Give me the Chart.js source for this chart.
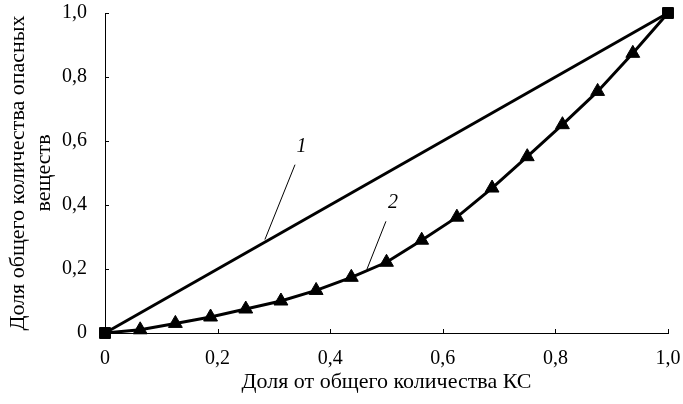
<!DOCTYPE html>
<html>
<head>
<meta charset="utf-8">
<script src="https://cdn.jsdelivr.net/npm/chart.js@4.4.1/dist/chart.umd.min.js"></script>
<style>
html,body{margin:0;padding:0;background:#fff;}
#wrap{width:683px;height:404px;position:relative;}
</style>
</head>
<body>
<div id="wrap"><canvas id="c" width="683" height="404"></canvas></div>
<script>
// ---- data ----
const line1X = [0, 1];
const line1Y = [0, 1];
const line2X = [0, 0.0625, 0.125, 0.1875, 0.25, 0.3125, 0.375, 0.4375, 0.5, 0.5625, 0.625, 0.6875, 0.75, 0.8125, 0.875, 0.9375, 1];
const line2Y = [0, 0.01, 0.03, 0.05, 0.075, 0.10, 0.133, 0.174, 0.221, 0.29, 0.362, 0.453, 0.551, 0.651, 0.755, 0.874, 1.0];
const tickValues = [0, 0.2, 0.4, 0.6, 0.8, 1.0];
const xTitle = 'Доля от общего количества КС';
const yTitle = ['Доля общего количества опасных', 'веществ'];
const curveLabels = ['1', '2'];
const labelPos = [[0.349, 0.583], [0.5115, 0.407]];
const leaderLines = [[[0.3375, 0.526], [0.284, 0.292]], [[0.499, 0.349], [0.465, 0.198]]];

const FONT = "'Liberation Serif', 'Times New Roman', serif";
const fmt = v => (Math.abs(v) < 1e-9 ? '0' : v.toFixed(1).replace('.', ','));

const pts1 = line1X.map((x, i) => ({x, y: line1Y[i]}));
const pts2 = line2X.map((x, i) => ({x, y: line2Y[i]}));
const style2 = line2X.map((x, i) => (i === 0 || i === line2X.length - 1) ? 'rect' : 'triangle');
const radius2 = style2.map(s => s === 'rect' ? 7.5 : 8);

const decor = {
  id: 'decor',
  afterDraw(chart) {
    const ctx = chart.ctx;
    const xs = chart.scales.x, ys = chart.scales.y;
    ctx.save();
    ctx.strokeStyle = '#000';
    ctx.lineWidth = 1;
    // inner tick marks
    tickValues.forEach(v => {
      const px = Math.round(xs.getPixelForValue(v)) + 0.5;
      ctx.beginPath(); ctx.moveTo(px, ys.bottom); ctx.lineTo(px, ys.bottom - 4); ctx.stroke();
      const py = Math.round(ys.getPixelForValue(v)) + 0.5;
      ctx.beginPath(); ctx.moveTo(xs.left, py); ctx.lineTo(xs.left + 4, py); ctx.stroke();
    });
    // leader lines
    leaderLines.forEach(seg => {
      ctx.beginPath();
      ctx.moveTo(xs.getPixelForValue(seg[0][0]), ys.getPixelForValue(seg[0][1]));
      ctx.lineTo(xs.getPixelForValue(seg[1][0]), ys.getPixelForValue(seg[1][1]));
      ctx.stroke();
    });
    // curve labels
    ctx.fillStyle = '#000';
    ctx.font = 'italic 20px ' + FONT;
    ctx.textAlign = 'center';
    ctx.textBaseline = 'middle';
    curveLabels.forEach((t, i) => {
      ctx.fillText(t, xs.getPixelForValue(labelPos[i][0]), ys.getPixelForValue(labelPos[i][1]));
    });
    ctx.restore();
  }
};

function zeroPad(s) { s.paddingTop = 0; s.paddingBottom = 0; s.paddingLeft = 0; s.paddingRight = 0; }

new Chart(document.getElementById('c'), {
  type: 'scatter',
  data: {
    datasets: [
      {
        data: pts1, showLine: true, borderColor: '#000', borderWidth: 3,
        pointStyle: 'rect', pointRadius: 7.5, pointBackgroundColor: '#000', pointBorderColor: '#000',
        pointBorderWidth: 1, tension: 0, clip: false
      },
      {
        data: pts2, showLine: true, borderColor: '#000', borderWidth: 3,
        pointStyle: style2, pointRadius: radius2, pointBackgroundColor: '#000', pointBorderColor: '#000',
        pointBorderWidth: 1, tension: 0, clip: false
      }
    ]
  },
  options: {
    responsive: false,
    animation: false,
    devicePixelRatio: 1,
    layout: {padding: {left: 0, right: 15, top: 13, bottom: 0}},
    plugins: {legend: {display: false}, tooltip: {enabled: false}},
    scales: {
      x: {
        type: 'linear', min: 0, max: 1,
        afterFit(s) { s.height = 71; zeroPad(s); },
        afterBuildTicks(s) { s.ticks = tickValues.map(v => ({value: v})); },
        grid: {display: false, drawTicks: false},
        border: {display: true, color: '#000', width: 1},
        ticks: {padding: 14, color: '#000', font: {family: FONT, size: 20}, callback: v => fmt(v), maxRotation: 0},
        title: {display: true, text: xTitle, color: '#000', font: {family: FONT, size: 22, lineHeight: 1.2}, padding: {top: 0, bottom: 9}}
      },
      y: {
        type: 'linear', min: 0, max: 1,
        afterFit(s) { s.width = 105; zeroPad(s); },
        afterBuildTicks(s) { s.ticks = tickValues.map(v => ({value: v})); },
        grid: {display: false, drawTicks: false},
        border: {display: true, color: '#000', width: 1},
        ticks: {padding: 18, color: '#000', font: {family: FONT, size: 20}, callback: v => fmt(v)},
        title: {display: true, text: yTitle, color: '#000', font: {family: FONT, size: 22, lineHeight: 1.18}, padding: {top: 5, bottom: 0}}
      }
    }
  },
  plugins: [decor]
});
</script>
</body>
</html>
